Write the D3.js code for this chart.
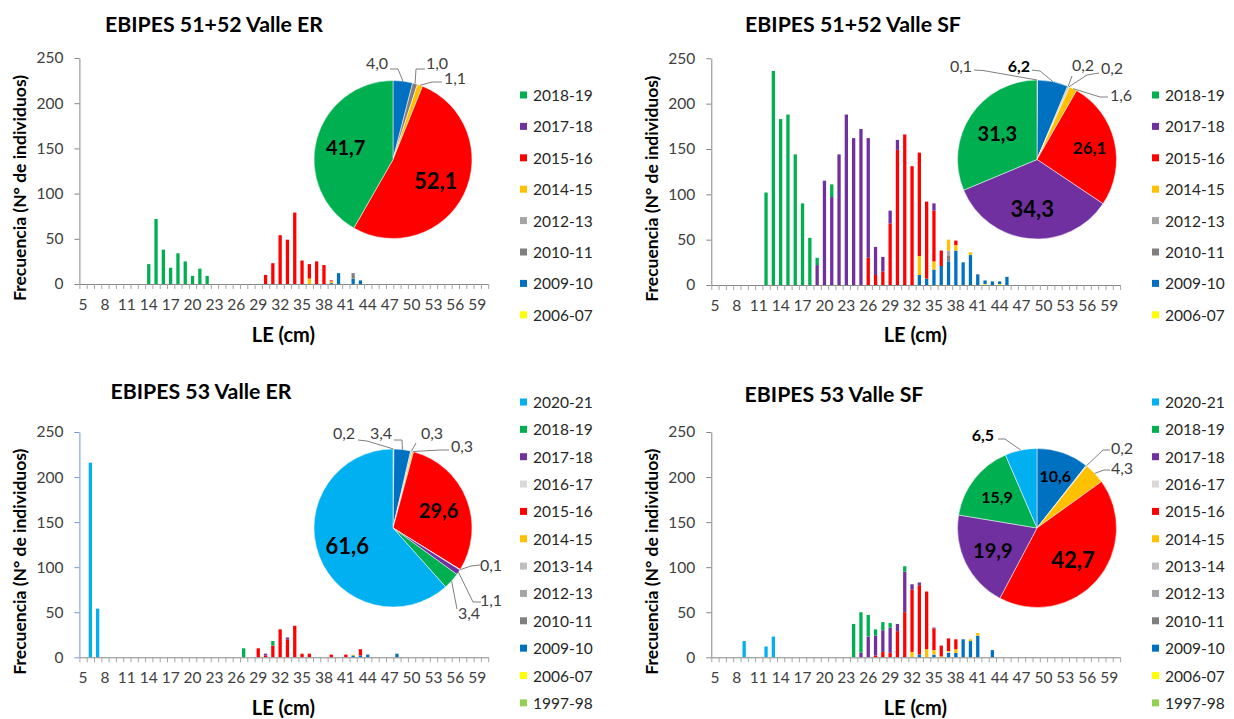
<!DOCTYPE html>
<html><head><meta charset="utf-8">
<script src="https://cdn.jsdelivr.net/npm/d3@7"></script>
<style>
body{margin:0;background:#fff;}
svg text{font-family:Lato,"Open Sans",sans-serif;}
</style></head><body>
<svg id="chart" width="1234" height="719"></svg>
<script>
// ---------- shared categories ----------
const lengths = d3.range(5, 61);                 // LE (cm) classes 5..60
const xTickLabels = d3.range(5, 60, 3);          // 5, 8, ..., 59
const yTicks = [0, 50, 100, 150, 200, 250];
const seasons = ["1997-98","2006-07","2009-10","2010-11","2012-13","2013-14","2014-15","2015-16","2016-17","2017-18","2018-19","2020-21"];
const seasonColors = ["#92d050","#ffff00","#0070c0","#7f7f7f","#a5a5a5","#bfbfbf","#ffc000","#ff0000","#d9d9d9","#7030a0","#00b050","#00b0f0"];

// ---------- Panel A: EBIPES 51+52 Valle ER ----------
const A_title = "EBIPES 51+52 Valle ER";
const A_2018_19 = [[14,22],[15,72],[16,38],[17,18],[18,34],[19,25],[20,9],[21,17],[22,9]];
const A_2015_16 = [[30,10],[31,23],[32,54],[33,49],[34,79],[35,26],[36,16],[37,25],[38,21],[39,1]];
const A_2014_15 = [[36,6],[39,2]];
const A_2010_11 = [[42,6]];
const A_2009_10 = [[39,1],[40,12],[42,6],[43,4]];
const A_legend = ["2018-19","2017-18","2015-16","2014-15","2012-13","2010-11","2009-10","2006-07"];
const A_pieSeasons = ["2009-10","2010-11","2014-15","2015-16","2018-19"];
const A_pieValues = [4.0, 1.0, 1.1, 52.1, 41.7];

// ---------- Panel B: EBIPES 51+52 Valle SF ----------
const B_title = "EBIPES 51+52 Valle SF";
const B_2018_19 = [[12,102],[13,236],[14,183],[15,188],[16,144],[17,90],[18,52],[19,8],[21,14]];
const B_2017_18 = [[19,22],[20,115],[21,97],[22,144],[23,188],[24,162],[25,172],[26,132],[27,31],[28,16],[29,14],[30,11],[35,8]];
const B_2015_16 = [[26,30],[27,11],[28,15],[29,68],[30,149],[31,166],[32,131],[33,114],[34,85],[35,56],[36,17],[38,5]];
const B_2014_15 = [[33,21],[35,9],[37,12],[38,6],[40,3]];
const B_2012_13 = [[37,6]];
const B_2010_11 = [[37,6],[41,1]];
const B_2009_10 = [[33,11],[34,7],[35,17],[36,21],[37,26],[38,38],[39,25],[40,33],[41,11],[42,4],[43,4],[44,3],[45,9]];
const B_2006_07 = [[42,1],[44,1]];
const B_legend = ["2018-19","2017-18","2015-16","2014-15","2012-13","2010-11","2009-10","2006-07"];
const B_pieSeasons = ["2006-07","2009-10","2010-11","2012-13","2014-15","2015-16","2017-18","2018-19"];
const B_pieValues = [0.1, 6.2, 0.2, 0.2, 1.6, 26.1, 34.3, 31.3];

// ---------- Panel C: EBIPES 53 Valle ER ----------
const C_title = "EBIPES 53 Valle ER";
const C_2020_21 = [[6,216],[7,54]];
const C_2018_19 = [[27,10],[31,5]];
const C_2017_18 = [[30,2],[33,2]];
const C_2015_16 = [[29,10],[30,2],[31,13],[32,31],[33,20],[34,35],[35,4],[36,4],[39,3],[41,3],[43,7]];
const C_2014_15 = [[42,1]];
const C_2013_14 = [[44,1]];
const C_2009_10 = [[42,2],[43,2],[44,3],[48,4]];
const C_legend = ["2020-21","2018-19","2017-18","2016-17","2015-16","2014-15","2013-14","2012-13","2010-11","2009-10","2006-07","1997-98"];
const C_pieSeasons = ["1997-98","2009-10","2013-14","2014-15","2015-16","2016-17","2017-18","2018-19","2020-21"];
const C_pieValues = [0.2, 3.4, 0.3, 0.3, 29.6, 0.1, 1.1, 3.4, 61.6];

// ---------- Panel D: EBIPES 53 Valle SF ----------
const D_title = "EBIPES 53 Valle SF";
const D_2020_21 = [[9,18],[12,12],[13,23]];
const D_2018_19 = [[24,37],[25,45],[26,24],[27,7],[28,9],[29,5],[31,6]];
const D_2017_18 = [[25,5],[26,23],[27,22],[28,24],[29,28],[30,8],[31,45],[32,6],[33,3],[35,1]];
const D_2015_16 = [[27,2],[28,6],[29,5],[30,29],[31,50],[32,69],[33,77],[34,64],[35,24],[36,12],[37,14],[38,11]];
const D_2014_15 = [[32,6],[34,9],[35,5],[36,1],[37,1],[38,4],[40,2],[41,3]];
const D_2013_14 = [[37,1]];
const D_2009_10 = [[33,3],[35,3],[37,5],[38,5],[39,20],[40,18],[41,24],[43,8]];
const D_legend = ["2020-21","2018-19","2017-18","2016-17","2015-16","2014-15","2013-14","2012-13","2010-11","2009-10","2006-07","1997-98"];
const D_pieSeasons = ["2009-10","2013-14","2014-15","2015-16","2017-18","2018-19","2020-21"];
const D_pieValues = [10.6, 0.2, 4.3, 42.7, 19.9, 15.9, 6.5];

// ---------- assemble ----------
const color = d3.scaleOrdinal().domain(seasons).range(seasonColors);
const panels = [
  {title:A_title, series:{"2018-19":A_2018_19,"2015-16":A_2015_16,"2014-15":A_2014_15,"2010-11":A_2010_11,"2009-10":A_2009_10},
   legend:A_legend, pieSeasons:A_pieSeasons, pieValues:A_pieValues,
   L:{x0:79.4, y0:284, yTop:58, axisColor:"#868686", titleX:214, titleY:32, yTitleX:22, xTitleY:342,
      legX:520, legY0:95, legDy:31.4, cx:393, cy:159.5, r:79,
      inner:{"2015-16":{s:22,k:0.6},"2018-19":{s:20,k:0.62}},
      outer:{"2009-10":{t:[-16,-97.5],s:[-3,-90.5],e:[5,-90.5]},
             "2010-11":{t:[44,-97.5],s:[32,-90.5],e:[23,-90.5]},
             "2014-15":{t:[62,-82.5],s:[49,-77.5],e:[39,-77.5]}}}},
  {title:B_title, series:{"2018-19":B_2018_19,"2017-18":B_2017_18,"2015-16":B_2015_16,"2014-15":B_2014_15,"2012-13":B_2012_13,"2010-11":B_2010_11,"2009-10":B_2009_10,"2006-07":B_2006_07},
   legend:B_legend, pieSeasons:B_pieSeasons, pieValues:B_pieValues,
   L:{x0:711.3, y0:285, yTop:58.3, axisColor:"#868686", titleX:853, titleY:32, yTitleX:654, xTitleY:342,
      legX:1152, legY0:95, legDy:31.4, cx:1037, cy:159.5, r:79.5,
      inner:{"2015-16":{s:17,k:0.68},"2017-18":{s:22,k:0.62},"2018-19":{s:20,k:0.6}},
      outer:{"2006-07":{t:[-76,-94.5],s:[-63,-89.5],e:[-54,-89]},
             "2009-10":{t:[-18,-94.5],s:[-5,-89.5],e:[3,-88.5],b:true},
             "2010-11":{t:[46,-95.5],s:[35,-83.5],e:[35,-83.5]},
             "2012-13":{t:[75,-92.5],s:[62,-86.5],e:[50,-84.5]},
             "2014-15":{t:[84,-65.5],s:[71,-62.5],e:[63,-62.5]}}}},
  {title:C_title, series:{"2020-21":C_2020_21,"2018-19":C_2018_19,"2017-18":C_2017_18,"2015-16":C_2015_16,"2014-15":C_2014_15,"2013-14":C_2013_14,"2009-10":C_2009_10},
   legend:C_legend, pieSeasons:C_pieSeasons, pieValues:C_pieValues,
   L:{x0:79.4, y0:657.3, yTop:432, axisColor:"#868686", yAxisColor:"#6f9ad2", titleX:201, titleY:399, yTitleX:22, xTitleY:715,
      legX:520, legY0:402, legDy:27.35, cx:393, cy:528, r:79,
      inner:{"2015-16":{s:20,k:0.62},"2020-21":{s:22,k:0.62}},
      outer:{"1997-98":{t:[-49,-96],s:[-35,-88],e:[-26,-87]},
             "2009-10":{t:[-12,-96],s:[1,-88],e:[9,-88]},
             "2013-14":{t:[39,-96],s:[23,-85],e:[23,-85]},
             "2014-15":{t:[69,-83],s:[56,-78],e:[47,-78]},
             "2016-17":{t:[98,36],s:[87,37],e:[78,38]},
             "2017-18":{t:[98,71],s:[88,74],e:[80,74]},
             "2018-19":{t:[76,84],s:[64,81],e:[64,81]}}}},
  {title:D_title, series:{"2020-21":D_2020_21,"2018-19":D_2018_19,"2017-18":D_2017_18,"2015-16":D_2015_16,"2014-15":D_2014_15,"2013-14":D_2013_14,"2009-10":D_2009_10},
   legend:D_legend, pieSeasons:D_pieSeasons, pieValues:D_pieValues,
   L:{x0:711.3, y0:657.3, yTop:432, axisColor:"#868686", titleX:834, titleY:402, yTitleX:654, xTitleY:715,
      legX:1152, legY0:402, legDy:27.35, cx:1037, cy:528, r:79.5,
      inner:{"2009-10":{s:16,k:0.7},"2015-16":{s:22,k:0.6},"2017-18":{s:20,k:0.62},"2018-19":{s:16,k:0.64}},
      outer:{"2020-21":{t:[-54,-94],s:[-39,-89],e:[-32,-89],b:true},
             "2013-14":{t:[85,-81],s:[73,-78],e:[66,-78]},
             "2014-15":{t:[85,-61],s:[73,-58],e:[67,-58]}}}}
];

const svg = d3.select("#chart");
const step = 7.3;
const fmt = v => d3.format(".1f")(v).replace(".", ",");

panels.forEach(P => {
  const L = P.L;
  const W = lengths.length * step;
  const g = svg.append("g");
  const x = d3.scaleBand().domain(lengths).range([L.x0, L.x0 + W]).paddingInner(0.55).paddingOuter(0.275);
  const xb = d3.scaleLinear().domain([0, lengths.length]).range([L.x0, L.x0 + W]);
  const y = d3.scaleLinear().domain([0, 250]).range([L.y0, L.yTop]);

  // title
  g.append("text").attr("x", L.titleX).attr("y", L.titleY).attr("text-anchor","middle")
    .attr("font-size", 21.3).attr("font-weight","bold").attr("fill","#000").text(P.title);

  // stacked bars
  const rows = lengths.map(len => { const r = {len}; seasons.forEach(s => r[s] = 0); return r; });
  Object.entries(P.series).forEach(([s, pairs]) => pairs.forEach(([len, n]) => { rows[len - 5][s] += n; }));
  const layers = d3.stack().keys(seasons)(rows);
  layers.forEach(layer => {
    g.append("g").attr("fill", color(layer.key))
      .selectAll("rect").data(layer.filter(d => d[1] > d[0])).join("rect")
      .attr("x", d => x(d.data.len)).attr("width", x.bandwidth())
      .attr("y", d => y(d[1])).attr("height", d => y(d[0]) - y(d[1]));
  });

  // y axis
  const ya = g.append("g").attr("transform", `translate(${L.x0},0)`)
    .call(d3.axisLeft(y).tickValues(yTicks).tickSize(5).tickSizeOuter(0).tickPadding(11));
  ya.select(".domain").attr("stroke", L.yAxisColor || L.axisColor);
  ya.selectAll(".tick line").attr("stroke", L.yAxisColor || L.axisColor);
  ya.selectAll("text").attr("font-size", 15.5).attr("fill", "#404040").attr("font-family","Lato,sans-serif");

  // x axis: boundary ticks
  const xa = g.append("g").attr("transform", `translate(0,${L.y0})`)
    .call(d3.axisBottom(xb).tickValues(d3.range(lengths.length + 1)).tickFormat("").tickSize(5).tickSizeOuter(0));
  xa.select(".domain").attr("stroke", L.axisColor);
  xa.selectAll(".tick line").attr("stroke", "#a6a6a6");
  // x labels
  const xl = g.append("g").attr("transform", `translate(0,${L.y0})`)
    .call(d3.axisBottom(x).tickValues(xTickLabels).tickSize(0).tickPadding(15));
  xl.select(".domain").remove();
  xl.selectAll("text").attr("font-size", 15.5).attr("fill", "#404040").attr("font-family","Lato,sans-serif");

  // axis titles
  g.append("text").attr("transform", `translate(${L.yTitleX},${(L.y0 + L.yTop) / 2 + 17}) rotate(-90)`)
    .attr("text-anchor","middle").attr("dominant-baseline","middle")
    .attr("font-size", 17.5).attr("font-weight","bold").text("Frecuencia (N° de individuos)");
  g.append("text").attr("x", L.x0 + 204).attr("y", L.xTitleY).attr("text-anchor","middle")
    .attr("font-size", 20).attr("font-weight","bold").text("LE (cm)");

  // legend
  const lg = g.append("g").selectAll("g").data(P.legend).join("g")
    .attr("transform", (d, i) => `translate(${L.legX},${L.legY0 + i * L.legDy})`);
  lg.append("rect").attr("x", 0).attr("y", -3.5).attr("width", 7).attr("height", 7).attr("fill", d => color(d));
  lg.append("text").attr("x", 13).attr("y", 0).attr("dominant-baseline","central")
    .attr("font-size", 15.5).attr("fill", "#262626").text(d => d);

  // pie
  const pieData = P.pieSeasons.map((s, i) => ({season: s, v: P.pieValues[i]}));
  const arcs = d3.pie().sort(null).value(d => d.v)(pieData);
  const arc = d3.arc().innerRadius(0).outerRadius(L.r);
  const pg = g.append("g").attr("transform", `translate(${L.cx},${L.cy})`);
  pg.selectAll("path").data(arcs).join("path")
    .attr("d", arc).attr("fill", d => color(d.data.season))
    .attr("stroke", "#fff").attr("stroke-width", 0.5);

  // inner labels
  arcs.forEach(a => {
    const c = L.inner[a.data.season];
    if (!c) return;
    const ang = (a.startAngle + a.endAngle) / 2;
    const rr = L.r * c.k;
    pg.append("text").attr("x", rr * Math.sin(ang)).attr("y", -rr * Math.cos(ang))
      .attr("text-anchor","middle").attr("dominant-baseline","central")
      .attr("font-size", c.s).attr("font-weight","bold").attr("fill","#000")
      .text(fmt(a.data.v));
  });
  // outer labels with leader lines
  arcs.forEach(a => {
    const c = L.outer[a.data.season];
    if (!c) return;
    const ang = (a.startAngle + a.endAngle) / 2;
    const end = [L.r * Math.sin(ang), -L.r * Math.cos(ang)];
    pg.append("polyline").attr("points", [c.s, c.e, end].map(p => p.join(",")).join(" "))
      .attr("fill","none").attr("stroke","#7f7f7f").attr("stroke-width", 1);
    pg.append("text").attr("x", c.t[0]).attr("y", c.t[1])
      .attr("text-anchor","middle").attr("dominant-baseline","central")
      .attr("font-size", 16).attr("font-weight", c.b ? "bold" : "normal")
      .attr("fill", c.b ? "#000" : "#404040").text(fmt(a.data.v));
  });
});
</script></body></html>
